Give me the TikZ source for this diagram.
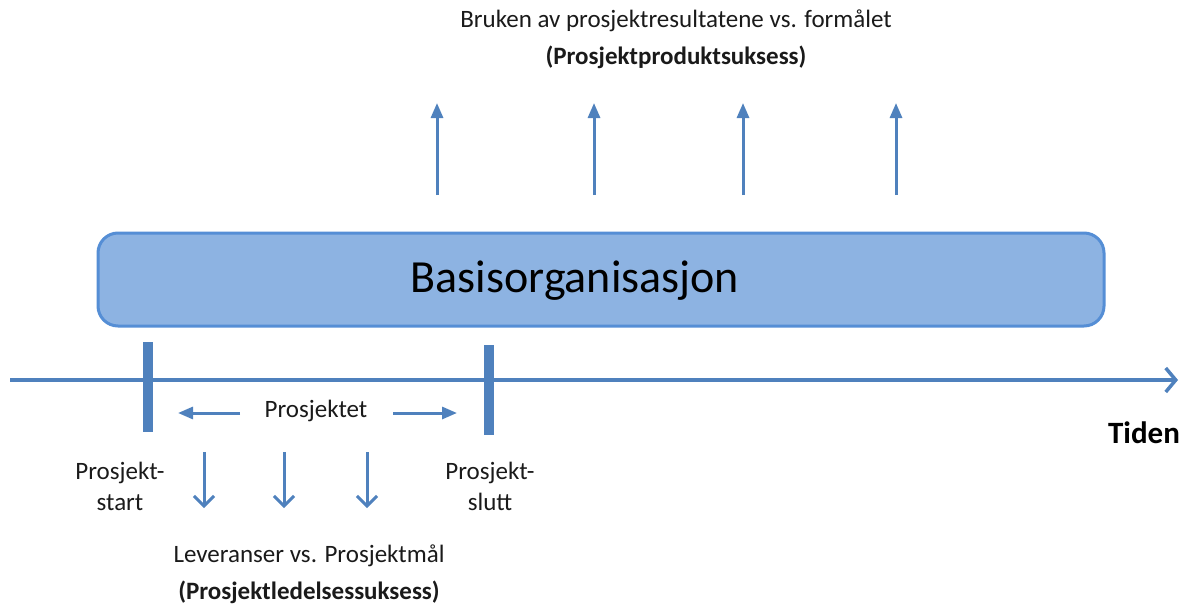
\documentclass[tikz,border=0pt]{standalone}
\usepackage{fontspec}
\setmainfont{Carlito}
\usetikzlibrary{arrows.meta}
\definecolor{axisblue}{HTML}{4F81BD}
\definecolor{boxfill}{HTML}{8DB3E2}
\definecolor{boxline}{HTML}{558ED5}
\definecolor{txt}{HTML}{1A1A1A}
\begin{document}
\begin{tikzpicture}[x=1pt,y=-1pt,
  lbl/.style={text=txt,font=\fontsize{25}{30}\selectfont,inner sep=0pt,align=center},
  blbl/.style={lbl,font=\fontsize{25}{30}\selectfont\bfseries},
  uparrow/.style={axisblue,line width=3pt,-{Triangle[length=15pt,width=12pt]}},
  downarrow/.style={axisblue,line width=3pt,-{Straight Barb[length=10pt,width=20pt,line width=3pt]}},
  sidearrow/.style={axisblue,line width=3pt,-{Triangle[length=15pt,width=12pt]}},
  bar/.style={fill=axisblue,draw=none}]
\useasboundingbox (0,0) rectangle (1182,605);

% base organisation box
\node (base) [draw=boxline,line width=3pt,fill=boxfill,rounded corners=20pt,
  minimum width=1006pt,minimum height=93pt,inner sep=0pt] at (601,279.5) {};
\node (basetext) at (575,281) [font=\fontsize{46}{54}\selectfont,text=black,inner sep=0pt] {Basisorganisasjon};

% time axis
\coordinate (axs) at (10,380);
\coordinate (axe) at (1178,380);
\draw[axisblue,line width=3.5pt,-{Straight Barb[length=10pt,width=24pt,line width=3.5pt]}] (axs) -- (axe);
\node (tiden) at (1144,433) [text=black,font=\fontsize{31}{36}\selectfont\bfseries,inner sep=0pt] {Tiden};

% project start / end markers
\node (startbar) [bar,minimum width=10pt,minimum height=90pt,inner sep=0pt] at (148,387) {};
\node (endbar) [bar,minimum width=10pt,minimum height=90pt,inner sep=0pt] at (489,390) {};

% project span
\node (prosj) at (316,411) [lbl] {Prosjektet};
\coordinate (la) at (240,413);
\coordinate (lb) at (178,413);
\coordinate (ra) at (393,413);
\coordinate (rb) at (457,413);
\draw[sidearrow] (la) -- (lb);
\draw[sidearrow] (ra) -- (rb);

\node (pstart) at (120,486) [lbl] {Prosjekt-\\[1pt]start};
\node (pslutt) at (490,486) [lbl] {Prosjekt-\\[1pt]slutt};

% deliverables
\foreach \x/\n in {204/d1,284/d2,367/d3} {
  \coordinate (\n a) at (\x,452);
  \coordinate (\n b) at (\x,508);
  \draw[downarrow] (\n a) -- (\n b);
}
\node (lev) at (309,556) [lbl] {Leveranser vs. Prosjektmål};
\node (levb) at (309,592) [blbl] {(Prosjektledelsessuksess)};

% usage of results
\foreach \x/\n in {437/u1,594/u2,743/u3,896/u4} {
  \coordinate (\n a) at (\x,195);
  \coordinate (\n b) at (\x,103);
  \draw[uparrow] (\n a) -- (\n b);
}
\node (bruk) at (676,21) [lbl] {Bruken av prosjektresultatene vs. formålet};
\node (brukb) at (676,57) [blbl] {(Prosjektproduktsuksess)};
\end{tikzpicture}
\end{document}
